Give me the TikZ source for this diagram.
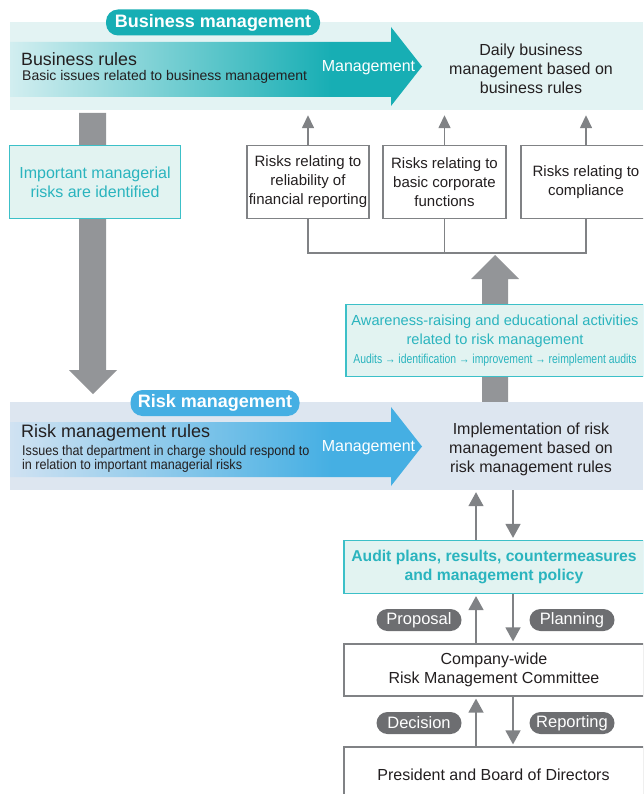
\documentclass[tikz,border=0pt]{standalone}
\usepackage{fontspec}
\setmainfont{Liberation Sans}
\newfontfamily\narrowfont[FakeStretch=0.9]{Liberation Sans}
\newfontfamily\condfont[FakeStretch=0.8]{Liberation Sans}
\usetikzlibrary{positioning,arrows.meta}
\definecolor{bizteal}{HTML}{17AEB4}
\definecolor{bizband}{HTML}{E3F3F3}
\definecolor{bizpale}{HTML}{D2EEF0}
\definecolor{riskblue}{HTML}{45AFE3}
\definecolor{riskband}{HTML}{DDE6F0}
\definecolor{riskpale}{HTML}{D0E2F2}
\definecolor{tealtext}{HTML}{2AB4BE}
\definecolor{tealline}{HTML}{3CC0C8}
\definecolor{tealfill}{HTML}{E2F3F1}
\definecolor{arrowgray}{HTML}{939598}
\definecolor{linegray}{HTML}{808285}
\definecolor{pillgray}{HTML}{6D6E71}
\definecolor{textgray}{HTML}{231F20}
\pgfdeclarehorizontalshading{bizshade}{100bp}{color(0bp)=(bizpale); color(25bp)=(bizpale); color(64bp)=(bizteal); color(100bp)=(bizteal)}
\pgfdeclarehorizontalshading{riskshade}{100bp}{color(0bp)=(riskpale); color(25bp)=(riskpale); color(64bp)=(riskblue); color(100bp)=(riskblue)}
\newcommand{\fsz}[2]{\fontsize{#1}{#2}\selectfont}
\begin{document}
\begin{tikzpicture}[x=1pt,y=-1pt,
  txt/.style={inner sep=0pt,text=textgray,align=center},
  band/.style={inner sep=0pt,minimum width=633pt,minimum height=88pt},
  badge/.style={inner sep=0pt,text=white,rounded corners=12pt,minimum height=26pt,font=\fsz{18}{21}\bfseries},
  riskbox/.style={draw=linegray,line width=1.2pt,fill=white,inner sep=0pt,minimum height=73pt,align=center,text=textgray,font=\fsz{15}{19}},
  tealbox/.style={draw=tealline,line width=1.2pt,fill=tealfill,inner sep=0pt,align=center,text=tealtext},
  whitebox/.style={draw=linegray,line width=1.2pt,fill=white,inner sep=0pt,minimum width=300pt,align=center,text=textgray,font=\fsz{16}{19}},
  pill/.style={fill=pillgray,text=white,inner sep=0pt,rounded corners=11pt,minimum width=85pt,minimum height=22pt,font=\fsz{16.5}{19}},
  conn/.style={draw=linegray,line width=1.5pt},
  smallarr/.style={conn,-{Triangle[width=12pt,length=13pt]}},
  flowarr/.style={conn,-{Triangle[width=15pt,length=14pt]}},
  bigarrow/.style={fill=arrowgray}]
\clip (0,0) rectangle (643,794);
\useasboundingbox (0,0) rectangle (643,794);
% business management band
\node[band,fill=bizband] (bizband) at (326.5,66) {};
\shade[shading=bizshade] (10,42) -- (391,42) -- (391,27) -- (422,66.5) -- (391,106) -- (391,97) -- (10,97) -- cycle;
\node[badge,fill=bizteal,minimum width=214pt] (bizbadge) at (213,22.5) {Business management};
\node[txt,anchor=west,font=\fsz{17.8}{20}] (bizrules) at (21,59) {Business rules};
\node[txt,anchor=west,font=\fsz{14}{16}] (bizissues) at (22,77) {Basic issues related to business management};
\node[txt,text=white,font=\fsz{16}{19}] (bizmgmt) at (368.5,68) {Management};
\node[txt,font=\fsz{16}{19}] (bizdaily) at (531,69) {Daily business\\management based on\\business rules};
% left arrow down
\fill[bigarrow] (79,113) -- (106,113) -- (106,370) -- (117,370) -- (93,394) -- (69,370) -- (79,370) -- cycle;
\node[tealbox,minimum width=171pt,minimum height=73pt,font=\fsz{16}{19}] (identified) at (95,182) {Important managerial\\risks are identified};
% risk categories
\node[riskbox,minimum width=122pt] (rfin) at (308,182) {Risks relating to\\reliability of\\financial reporting};
\node[riskbox,minimum width=123pt] (rbasic) at (444.5,182) {Risks relating to\\basic corporate\\functions};
\node[riskbox,minimum width=130pt] (rcomp) at (586,182) {Risks relating to\\compliance};
\draw[smallarr,shorten >=5pt] (rfin.north) -- (rfin.north |- bizband.south);
\draw[smallarr,shorten >=5pt] (rbasic.north) -- (rbasic.north |- bizband.south);
\draw[smallarr,shorten >=5pt] (rcomp.north) -- (rcomp.north |- bizband.south);
\coordinate (brk) at (444.5,253);
\draw[conn] (rfin.south) |- (brk) -| (rcomp.south);
\draw[conn] (rbasic.south) -- (brk);
% big arrow up
\fill[bigarrow] (482,402) -- (508,402) -- (508,279) -- (519,279) -- (495,255) -- (471,279) -- (482,279) -- cycle;
\node[tealbox,minimum width=298pt,minimum height=72pt,font=\fsz{14.6}{19}] (aware) at (495,340.5) {Awareness-raising and educational activities\\related to risk management\\{\condfont\fsz{13}{19}Audits \textrightarrow{} identification \textrightarrow{} improvement \textrightarrow{} reimplement audits}};
% risk management band
\node[band,fill=riskband] (riskband) at (326.5,446) {};
\shade[shading=riskshade] (10,422) -- (391,422) -- (391,407) -- (422,446.5) -- (391,486) -- (391,477) -- (10,477) -- cycle;
\node[badge,fill=riskblue,minimum width=169pt] (riskbadge) at (215,403) {Risk management};
\node[txt,anchor=west,font=\fsz{18}{20}] (riskrules) at (21,433) {Risk management rules};
\node[txt,anchor=west,align=left,font=\narrowfont\fsz{14}{14.5}] (riskissues) at (22,459) {Issues that department in charge should respond to\\in relation to important managerial risks};
\node[txt,text=white,font=\fsz{16}{19}] (riskmgmt) at (368.5,448) {Management};
\node[txt,font=\fsz{16}{19}] (riskimpl) at (531,449) {Implementation of risk\\management based on\\risk management rules};
% audit and committee
\node[tealbox,minimum width=300pt,minimum height=53pt,font=\fsz{15.7}{19}\bfseries] (audit) at (494,567) {Audit plans, results, countermeasures\\and management policy};
\node[whitebox,minimum height=52pt] (committee) at (494,670) {Company-wide\\Risk Management Committee};
\node[whitebox,minimum height=60pt] (president) at (494,777) {};
\node[txt,font=\fsz{16}{19}] (presidenttxt) at (493.5,774.5) {President and Board of Directors};
\draw[flowarr,shorten >=2pt] (476,0 |- audit.north) -- (476,0 |- riskband.south);
\draw[flowarr,shorten >=2pt] (513,0 |- riskband.south) -- (513,0 |- audit.north);
\draw[flowarr,shorten >=2pt] (476,0 |- committee.north) -- (476,0 |- audit.south);
\draw[flowarr,shorten >=2pt] (513,0 |- audit.south) -- (513,0 |- committee.north);
\draw[flowarr,shorten >=2pt] (476,0 |- president.north) -- (476,0 |- committee.south);
\draw[flowarr,shorten >=2pt] (513,0 |- committee.south) -- (513,0 |- president.north);
\node[pill] (proposal) at (419,620) {Proposal};
\node[pill] (planning) at (572,620) {Planning};
\node[pill] (decision) at (419,723) {Decision};
\node[pill] (reporting) at (572,723) {Reporting};
\end{tikzpicture}
\end{document}
